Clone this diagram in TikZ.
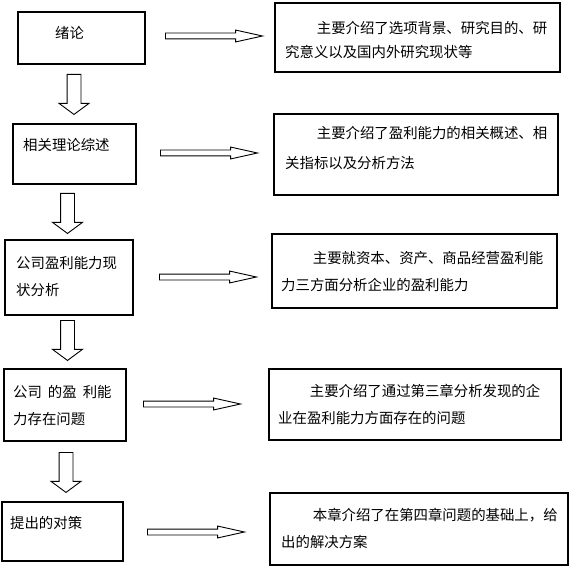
\documentclass[tikz,border=0pt]{standalone}
\usepackage{fontspec}
\newfontfamily\cjk{Noto Sans CJK SC}
\usetikzlibrary{shapes.arrows}
\tikzset{
  box/.style={draw, line width=1.8pt, anchor=north west, inner sep=0pt},
  txt/.style={anchor=west, inner sep=0pt, align=left, font=\cjk\fontsize{14.4}{27}\selectfont},
  rarrow/.style={single arrow, draw, line width=0.9pt, inner sep=0pt, text height=5pt, text depth=0pt, single arrow head extend=3pt, single arrow tip angle=25, minimum height=97pt, anchor=tail},
  darrow/.style={single arrow, draw, line width=0.9pt, inner sep=0pt, text height=13pt, text depth=0pt, single arrow head extend=8pt, single arrow tip angle=107, minimum height=40pt, anchor=tail, rotate=270}
}
\newcommand{\ind}{\hspace*{2.2em}}

\begin{document}
\begin{tikzpicture}[x=1pt,y=-1pt]
  \useasboundingbox (0,0) rectangle (576,575);
  \node[box, minimum width=127pt, minimum height=52pt] (bA) at (17,11) {};
  \node[box, minimum width=123pt, minimum height=60pt] (bB) at (12,123) {};
  \node[box, minimum width=128pt, minimum height=75pt] (bC) at (4,239) {};
  \node[box, minimum width=122pt, minimum height=72pt] (bD) at (3,368) {};
  \node[box, minimum width=121pt, minimum height=59pt] (bE) at (1,501) {};
  \node[box, minimum width=285pt, minimum height=69pt] (rA) at (274,2) {};
  \node[box, minimum width=284pt, minimum height=81pt] (rB) at (273,113) {};
  \node[box, minimum width=285pt, minimum height=74pt] (rC) at (271,233) {};
  \node[box, minimum width=292pt, minimum height=71pt] (rD) at (268,368) {};
  \node[box, minimum width=298pt, minimum height=72pt] (rE) at (269,492) {};
  \node[txt] (tA) at (55,33) {绪论};
  \node[txt] (tB) at (23,145) {相关理论综述};
  \node[txt] (tC) at (16,276.5) {公司盈利能力现\\状分析};
  \node[txt] (tD) at (13,406) {公司\hspace{6pt}的盈\hspace{6pt}利能\\力存在问题};
  \node[txt] (tE) at (10,523) {提出的对策};
  \node[txt] (sA) at (285,40) {\ind 主要介绍了选项背景、研究目的、研\\[-3pt]究意义以及国内外研究现状等};
  \node[txt] (sB) at (285,148) {\ind 主要介绍了盈利能力的相关概述、相\\[3pt]关指标以及分析方法};
  \node[txt] (sC) at (281,271.5) {\ind 主要就资本、资产、商品经营盈利能\\力三方面分析企业的盈利能力};
  \node[txt] (sD) at (278,404) {\ind 主要介绍了通过第三章分析发现的企\\业在盈利能力方面存在的问题};
  \node[txt] (sE) at (281,528.5) {\ind 本章介绍了在第四章问题的基础上，给\\出的解决方案};
  \node[rarrow] (hA) at (165,36) {};
  \node[rarrow] (hB) at (160,153) {};
  \node[rarrow] (hC) at (159,277) {};
  \node[rarrow] (hD) at (143,404) {};
  \node[rarrow] (hE) at (147,532) {};
  \node[darrow] (vA) at (74,74) {};
  \node[darrow] (vB) at (67.5,193) {};
  \node[darrow] (vC) at (67.5,320) {};
  \node[darrow] (vD) at (66,452) {};
\end{tikzpicture}
\end{document}
